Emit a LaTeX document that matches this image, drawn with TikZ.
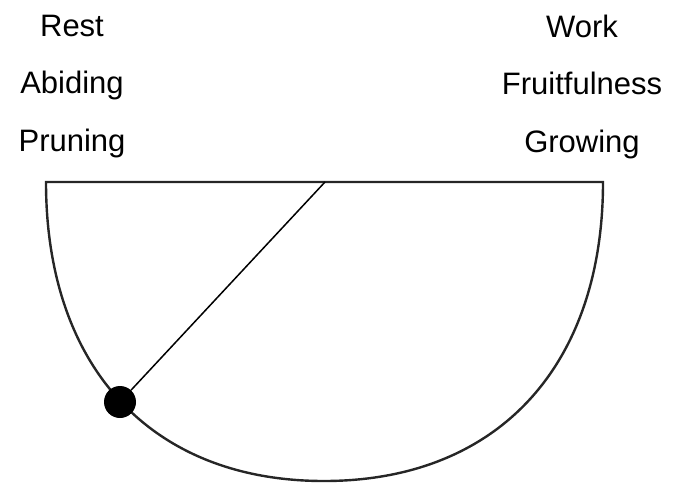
\documentclass[tikz,border=0pt]{standalone}
\usepackage{fontspec}
\setmainfont{Liberation Sans}
\usetikzlibrary{positioning}

\tikzset{word/.style={font=\fontsize{31}{36}\selectfont, inner sep=0pt, text height=22pt, text depth=7pt}}

\begin{document}
\begin{tikzpicture}[x=1pt,y=-1pt,node distance=57.5pt]
    \useasboundingbox (0,0) rectangle (684,485);
    \node (rest) [word] at (72,28.5) {Rest};
    \node (abiding) [word, below of=rest] {Abiding};
    \node (pruning) [word, below of=abiding] {Pruning};
    \node (work) [word] at (582,29.5) {Work};
    \node (fruit) [word, below of=work] {Fruitfulness};
    \node (growing) [word, below of=fruit] {Growing};

    \coordinate (tl) at (46,182);
    \coordinate (tr) at (603,182);
    \coordinate (low) at (324,481);
    \coordinate (pivot) at (325,182);

    \draw[line width=2.4pt, black!85] (tl) -- (tr) .. controls (603,367) and (497,481) .. (low)
        .. controls (151,481) and (46,367) .. (tl) -- cycle;
    \node (bob) [circle, fill=black, minimum size=32pt, inner sep=0pt] at (120,402) {};
    \draw[line width=1.5pt] (pivot) -- (bob);
  \end{tikzpicture}
\end{document}
